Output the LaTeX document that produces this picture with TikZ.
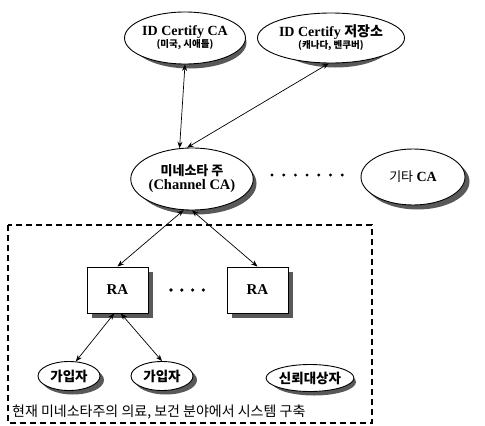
\documentclass[tikz,border=0pt]{standalone}
\usepackage{fontspec}
\setmainfont{Liberation Serif}
\newfontfamily\kr{Noto Sans CJK KR}
\newcommand\subtxt{\kr\bfseries\fontsize{9.5}{11}\selectfont}
\usetikzlibrary{shapes.geometric,arrows.meta}
\begin{document}
\begin{tikzpicture}[x=1pt,y=-1pt,
  shd/.style={fill=black!65,draw=none},
  ell/.style={ellipse,draw,line width=0.9pt,fill=white,inner sep=0pt,align=center},
  rabox/.style={rectangle,draw,line width=0.9pt,fill=white,minimum width=61pt,minimum height=46pt,inner sep=0pt,font=\bfseries\fontsize{15}{17}\selectfont},
  arr/.style={{Stealth[length=6.5pt,width=5pt]}-{Stealth[length=6.5pt,width=5pt]},line width=0.7pt},
  leaf/.style={ell,font=\kr\bfseries\fontsize{13.5}{15}\selectfont},
  dotc/.style={fill=black,draw=none}
]
\fill[white] (0,0) rectangle (485,426);
\useasboundingbox (0,0) rectangle (485,426);
% shadows
\fill[shd] (189.5,42.5) ellipse [x radius=57, y radius=26];
\fill[shd] (335.5,42.5) ellipse [x radius=57, y radius=25];
\fill[shd] (196.5,183.5) ellipse [x radius=60, y radius=31];
\fill[shd] (417.5,181.5) ellipse [x radius=52, y radius=28];
\fill[shd] (91.5,271.5) rectangle (152.5,317.5);
\fill[shd] (231.5,271.5) rectangle (292.5,317.5);
\fill[shd] (73,380) ellipse [x radius=31, y radius=14.5];
\fill[shd] (166,380) ellipse [x radius=31, y radius=14.5];
\fill[shd] (314,382) ellipse [x radius=42, y radius=13.5];
% top ellipses
\node[ell,minimum width=114pt,minimum height=52pt] (idca) at (185,38)
  {{\bfseries\fontsize{14}{16}\selectfont ID Certify CA}\\[0pt]{\subtxt (미국, 시애틀)}};
\node[ell,minimum width=114pt,minimum height=50pt] (stor) at (331,38)
  {{\bfseries\fontsize{14}{16}\selectfont ID Certify {\kr 저장소}}\\[0pt]{\subtxt (캐나다, 벤쿠버)}};
% channel CA
\node[ell,minimum width=120pt,minimum height=62pt] (minn) at (192,179)
  {{\kr\bfseries\fontsize{13}{15}\selectfont 미네소타 주}\\[2pt]{\bfseries\fontsize{14.5}{16}\selectfont (Channel CA)}};
\node[ell,minimum width=104pt,minimum height=56pt] (other) at (413,177)
  {{\kr\fontsize{13}{15}\selectfont 기타}\,\,{\bfseries\fontsize{14}{16}\selectfont CA}};
\foreach \i in {0,...,6} \fill[dotc] (272+\i*11.7,175) circle (1.6pt);
% RA boxes
\node[rabox] (ra1) at (117.5,290) {RA};
\node[rabox] (ra2) at (257.5,290) {RA};
\foreach \i in {0,...,3} \fill[dotc] (171+\i*10.8,290) circle (1.8pt);
% leaves
\node[leaf,minimum width=62pt,minimum height=29pt] (s1) at (69,376) {가입자};
\node[leaf,minimum width=62pt,minimum height=29pt] (s2) at (162,376) {가입자};
\node[leaf,minimum width=84pt,minimum height=27pt] (tr) at (310,378) {신뢰대상자};
% dashed region
\draw[line width=1.1pt,dash pattern=on 6pt off 4pt] (8,225) rectangle (372,423);
\node[anchor=west,inner sep=0pt,font=\kr\fontsize{14}{16}\selectfont] (note) at (12,412) {현재 미네소타주의 의료, 보건 분야에서 시스템 구축};
% connectors
\draw[arr] (idca.south) -- (minn.112);
\draw[arr] (stor.265) -- (minn.99);
\draw[arr] (minn.255) -- (ra1.north);
\draw[arr] (minn.270) -- (ra2.north);
\draw[arr] (ra1.262) -- (s1.65);
\draw[arr] (ra1.278) -- (s2.north);
\end{tikzpicture}
\end{document}
